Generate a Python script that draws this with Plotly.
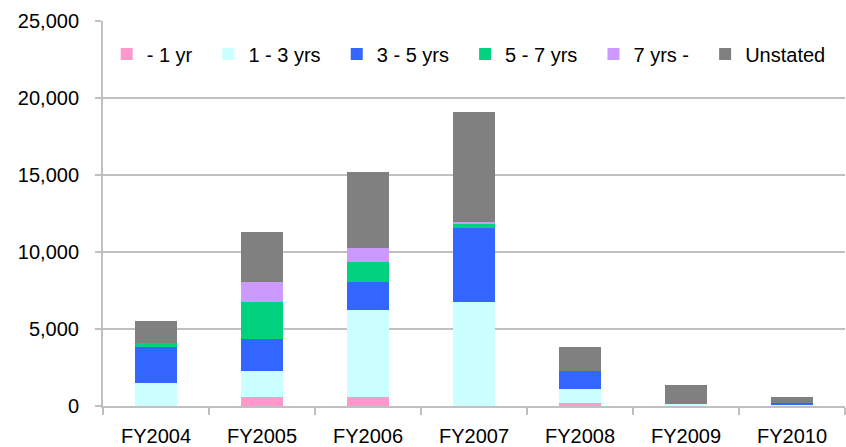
import plotly.graph_objects as go

# Fiscal years on the category axis
years = ["FY2004", "FY2005", "FY2006", "FY2007", "FY2008", "FY2009", "FY2010"]

# Counts per duration band (stacked bottom to top)
under_1 = [0, 580, 590, 0, 200, 0, 0]
yrs_1_3 = [1500, 1690, 5650, 6750, 900, 140, 40]
yrs_3_5 = [2330, 2080, 1820, 4800, 1150, 0, 130]
yrs_5_7 = [260, 2400, 1300, 260, 0, 0, 0]
over_7 = [0, 1300, 900, 130, 0, 0, 0]
unstated = [1430, 3250, 4940, 7150, 1580, 1220, 410]

series_names = ["- 1 yr", "1 - 3 yrs", "3 - 5 yrs", "5 - 7 yrs", "7 yrs -", "Unstated"]
series_values = [under_1, yrs_1_3, yrs_3_5, yrs_5_7, over_7, unstated]
series_colors = ["#FF99CC", "#CCFFFF", "#3366FF", "#00D280", "#CC99FF", "#808080"]

y_ticks = [0, 5000, 10000, 15000, 20000, 25000]
y_tick_text = ["0", "5,000", "10,000", "15,000", "20,000", "25,000"]

FONT = "Liberation Sans, Arial, sans-serif"
GRID = "#C0C0C0"

fig = go.Figure()
for name, vals, col in zip(series_names, series_values, series_colors):
    # non-breaking spaces widen the legend entries a little
    label = name if name == "Unstated" else name + "\u00a0\u00a0"
    fig.add_trace(go.Bar(
        x=years, y=vals, name=label,
        marker=dict(color=col, line=dict(width=0)),
    ))

fig.update_layout(
    width=846, height=447,
    barmode="stack",
    bargap=0.6,
    plot_bgcolor="white",
    paper_bgcolor="white",
    margin=dict(l=103, r=1, t=21, b=41, autoexpand=False),
    font=dict(family=FONT, size=20, color="#000000"),
    showlegend=True,
    legend=dict(
        orientation="h",
        x=0.005, xref="paper", xanchor="left",
        y=0.914, yanchor="middle",
        bgcolor="rgba(0,0,0,0)",
        font=dict(family=FONT, size=20, color="#000000"),
        traceorder="normal",
        itemclick=False,
    ),
    xaxis=dict(
        type="category",
        automargin=False,
        showline=True, linecolor=GRID, linewidth=2,
        ticks="outside", tickson="boundaries", ticklen=7, tickwidth=2, tickcolor=GRID,
        showgrid=False,
        ticklabelstandoff=11,
        range=[-0.5, 6.5],
    ),
    yaxis=dict(
        range=[0, 25000],
        automargin=False,
        tickvals=y_ticks, ticktext=y_tick_text,
        showline=True, linecolor=GRID, linewidth=2,
        ticks="outside", ticklen=6, tickwidth=2, tickcolor=GRID,
        showgrid=True, gridcolor=GRID, gridwidth=2,
        zeroline=False,
        ticklabelstandoff=12,
    ),
)

fig.write_html("out.html")
